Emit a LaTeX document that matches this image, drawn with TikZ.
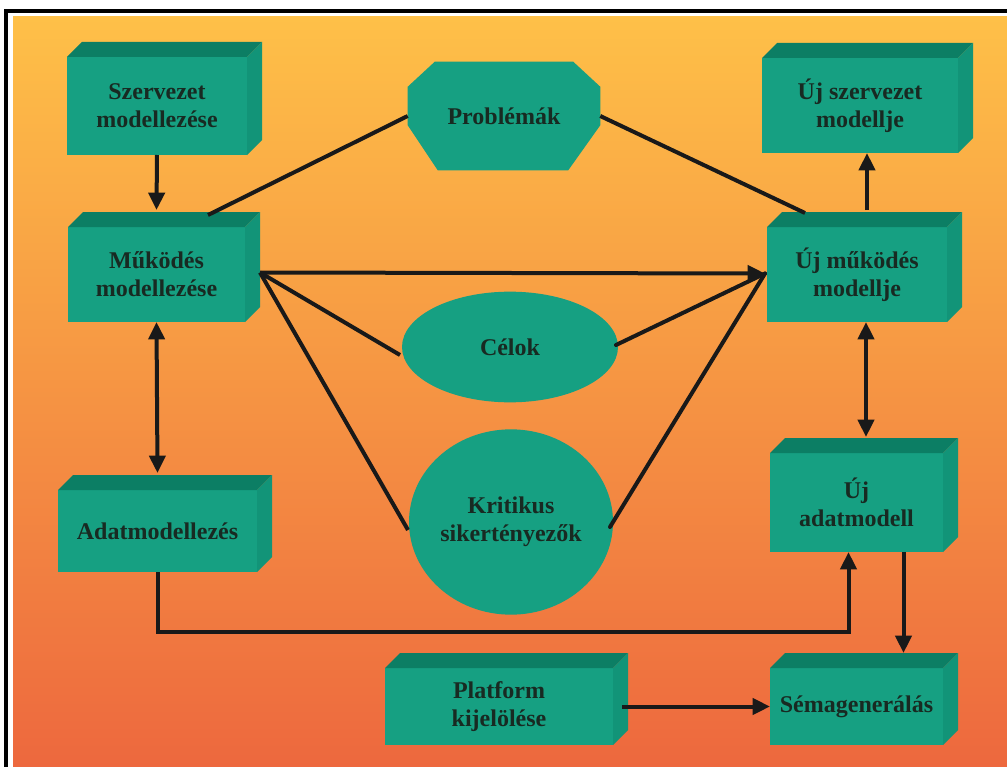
\documentclass[tikz,border=0pt]{standalone}
\usepackage{fontspec}
\setmainfont{Liberation Serif}
\usetikzlibrary{arrows.meta,calc,shapes.geometric}
\definecolor{bgtop}{RGB}{254,192,72}
\definecolor{bgmid}{RGB}{248,150,62}
\definecolor{bgbot}{RGB}{237,104,62}
\definecolor{tealfront}{RGB}{22,160,130}
\definecolor{tealtop}{RGB}{12,126,100}
\definecolor{tealside}{RGB}{18,148,120}
\definecolor{txt}{RGB}{24,42,34}
\tikzset{
  frontbox/.style={fill=tealfront, inner sep=0pt, outer sep=0pt, align=center,
    text=txt, font=\fontsize{18}{21}\selectfont\bfseries},
  topface/.style={fill=tealtop},
  sideface/.style={fill=tealside},
  ovalbox/.style={ellipse, fill=tealfront, inner sep=0pt, outer sep=0pt, align=center,
    text=txt, font=\fontsize{18}{21}\selectfont\bfseries},
  conn/.style={line width=3pt, black!90},
  arr/.style={conn, -{Triangle[length=13pt,width=12pt]}},
  arrboth/.style={conn, {Triangle[length=13pt,width=12pt]}-{Triangle[length=13pt,width=12pt]}},
}
\newcommand\cube[6]{%
  \node[frontbox, minimum width={(#4-#2)*0.75pt}, minimum height={(#5-#3)*0.75pt}]
    (#1) at ({(#2+#4)/2},{(#3+#5)/2}) {#6};
  \fill[topface] (#1.north west) -- ++(15,-15) -- ([shift={(15,-15)}]#1.north east)
    -- (#1.north east) -- cycle;
  \fill[sideface] (#1.north east) -- ++(15,-15) -- ([shift={(15,-15)}]#1.south east)
    -- (#1.south east) -- cycle;
}
\begin{document}
\begin{tikzpicture}[x=0.75pt,y=-0.75pt]
\useasboundingbox (0,0) rectangle (1007,767);
\fill[white] (0,0) rectangle (1007,767);
\shade[top color=bgtop, middle color=bgmid, bottom color=bgbot] (13,17) rectangle (1007,767);
\draw[line width=2.4pt] (6,767) -- (6,11) -- (1007,11);

% boxes
\cube{sz}{67}{57}{247}{155}{Szervezet\\modellezése}
\cube{mk}{68}{227}{245}{322}{Működés\\modellezése}
\cube{usz}{762}{58}{958}{153}{Új szervezet\\modellje}
\cube{umk}{767}{227}{947}{322}{Új működés\\modellje}
\cube{ad}{58}{490}{257}{572}{Adatmodellezés}
\cube{uad}{770}{453}{943}{552}{Új\\adatmodell}
\cube{pl}{385}{668}{613}{745}{Platform\\kijelölése}
\cube{se}{770}{668}{943}{745}{Sémagenerálás}

% octagon
\node[inner sep=0pt, minimum width=144pt, minimum height=81pt] (pr) at (504,116) {};
\fill[tealfront] ($(pr.north west)+(27,0)$) -- ($(pr.north east)+(-27,0)$)
  -- ($(pr.north east)+(0,25)$) -- ($(pr.south east)+(0,-45)$)
  -- ($(pr.south east)+(-32,0)$) -- ($(pr.south west)+(30,0)$)
  -- ($(pr.south west)+(0,-45)$) -- ($(pr.north west)+(0,25)$) -- cycle;
\node[text=txt, font=\fontsize{18}{21}\selectfont\bfseries] (prt) at (pr.center) {Problémák};

% ovals
\node[ovalbox, minimum width=162pt, minimum height=83pt] (ce) at (510,347) {\raisebox{-5pt}{Célok}};
\node[ovalbox, minimum width=153pt, minimum height=139pt] (kr) at (511,522) {Kritikus\\sikertényezők};

% connectors
\coordinate (hub) at ([shift={(15,-2)}]mk.east);
\coordinate (tip) at ([shift={(-2,-1)}]umk.west);
\draw[arr] (sz.south) -- ([shift={(0,-17)}]mk.north);
\draw[arrboth] (mk.south) -- ([shift={(0,-17)}]ad.north);
\draw[conn] (pr.west) -- ([shift={(140,-12)}]mk.north west);
\draw[conn] (pr.east) -- ([shift={(38,-14)}]umk.north west);
\draw[conn] (hub) -- ([shift={(-2,8)}]ce.west);
\draw[conn] (hub) -- ([shift={(-1,8)}]kr.west);
\draw[conn, line cap=round] ([shift={(-2,-2)}]ce.east) -- (tip);
\draw[conn, line cap=round] ([shift={(-3,5)}]kr.east) -- (tip);
\draw[arr] (hub) -- (tip);
\coordinate (u1) at ([shift={(10,-17)}]umk.north);
\draw[arr] (u1) -- (u1 |- usz.south);
\coordinate (u2) at ([shift={(9,0)}]umk.south);
\coordinate (uadtop) at ([shift={(0,-16)}]uad.north);
\draw[arrboth] (u2) -- (u2 |- uadtop);
\draw[arr] (ad.south) -- ++(0,60) -| ([shift={(-8,0)}]uad.south);
\coordinate (u3) at ([shift={(47,0)}]uad.south);
\coordinate (setop) at ([shift={(0,-15)}]se.north);
\draw[arr] (u3) -- (u3 |- setop);
\draw[arr] ([shift={(9,0)}]pl.east) -- (se.west);
\end{tikzpicture}
\end{document}
